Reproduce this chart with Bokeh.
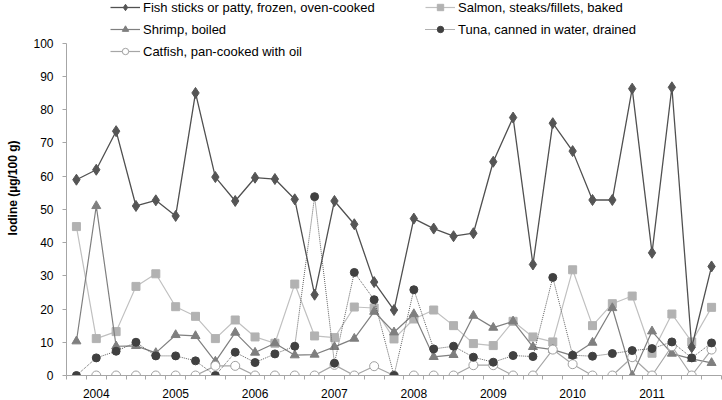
import numpy as np
from bokeh.plotting import figure
from bokeh.models import Range1d, FixedTicker, Legend, LegendItem
from bokeh.embed import file_html
from bokeh.resources import INLINE

# ---- data ----
fish_sticks = [58.9, 61.9, 73.5, 51.0, 52.7, 48.0, 85.0, 59.7, 52.5, 59.5, 59.1,
               53.0, 24.3, 52.5, 45.5, 28.1, 19.7, 47.2, 44.2, 41.9, 42.8, 64.3,
               77.6, 33.4, 75.9, 67.5, 52.8, 52.8, 86.3, 36.9, 86.7, 8.5, 32.8]
salmon = [44.8, 11.1, 13.2, 26.8, 30.6, 20.7, 17.8, 11.1, 16.7, 11.6, 9.7,
          27.5, 11.9, 11.4, 20.6, 20.3, 11.0, 17.0, 19.7, 15.0, 9.6, 9.0,
          16.3, 11.6, 10.1, 31.8, 15.0, 21.6, 23.9, 6.7, 18.5, 10.1, 20.5]
shrimp = [10.3, 51.0, 8.8, 8.9, 6.8, 12.2, 11.9, 4.2, 12.9, 6.9, 9.7,
          6.1, 6.3, 8.6, 11.1, 19.2, 13.0, 18.5, 5.6, 6.2, 18.0, 14.4,
          16.3, 8.6, 7.8, 6.0, 9.9, 20.3, 0.0, 13.3, 6.6, 5.0, 3.8]
tuna = [0.0, 5.3, 7.3, 10.0, 5.9, 5.9, 4.4, 0.0, 7.0, 3.9, 6.5,
        8.8, 53.8, 3.7, 31.0, 22.8, 0.0, 25.8, 8.0, 8.8, 5.5, 4.0,
        6.0, 5.7, 29.5, 6.1, 5.8, 6.6, 7.5, 8.1, 10.1, 5.3, 9.8]
catfish = [np.nan, 0.0, 0.0, 0.0, 0.0, 0.0, 0.0, 2.9, 2.9, 0.0, 0.0,
           0.0, 0.0, 3.2, 0.0, 2.8, 0.0, 0.0, 0.0, 0.0, 3.1, 3.1,
           0.0, 0.0, 7.8, 3.4, 0.0, 0.0, 5.5, 0.0, 8.8, 0.0, 7.8]
years = ["2004", "2005", "2006", "2007", "2008", "2009", "2010", "2011"]
year_first_index = 1   # first quarter of 2004 in the sampling sequence
per_year = 4           # samples per year
y_ticks = list(range(0, 101, 10))

x = np.arange(len(fish_sticks))

FONT = "Liberation Sans"

# frame: 0 at y=376px, 100 at y=42.7px -> extend range to the top of canvas
px_per_unit = (376 - 42.7) / 100.0
y_top = 376 / px_per_unit

p = figure(width=722, height=400, output_backend="svg", toolbar_location=None,
           x_range=Range1d(-0.5, len(x) - 0.5), y_range=Range1d(0, y_top))
p.min_border_left = 66
p.min_border_right = 1
p.min_border_top = 0
p.min_border_bottom = 24
p.outline_line_color = None
p.xgrid.visible = False
p.ygrid.visible = False
p.background_fill_color = "white"
p.border_fill_color = "white"

# axes
year_ticks = [year_first_index + per_year * i for i in range(len(years))]
p.xaxis.ticker = FixedTicker(ticks=year_ticks,
                             minor_ticks=[i - 0.5 for i in range(len(x) + 1)])
p.xaxis.major_label_overrides = {t: y for t, y in zip(year_ticks, years)}
p.xaxis.major_tick_out = 0
p.xaxis.major_tick_in = 0
p.xaxis.minor_tick_out = 4
p.xaxis.minor_tick_in = 0
p.xaxis.major_label_standoff = 9
p.xaxis.axis_line_color = "#A6A6A6"
p.xaxis.minor_tick_line_color = "#A6A6A6"

p.yaxis.ticker = FixedTicker(ticks=y_ticks)
p.yaxis.bounds = (y_ticks[0], y_ticks[-1])
p.yaxis.minor_tick_line_color = None
p.yaxis.major_tick_out = 4
p.yaxis.major_tick_in = 0
p.yaxis.major_label_standoff = 9
p.yaxis.axis_line_color = "#A6A6A6"
p.yaxis.major_tick_line_color = "#A6A6A6"
p.yaxis.axis_label = "Iodine (µg/100 g)"
p.yaxis.axis_label_text_font = FONT
p.yaxis.axis_label_text_font_style = "bold"
p.yaxis.axis_label_text_font_size = "12px"
p.yaxis.axis_label_text_color = "#000000"
p.yaxis.axis_label_standoff = 10

for ax in (p.xaxis, p.yaxis):
    ax.major_label_text_font = FONT
    ax.major_label_text_font_size = "12px"
    ax.major_label_text_color = "#000000"

SAL_L, SAL_M = "#C0C0C0", "#B2B2B2"
SHR = "#7F7F7F"
CAT_L, CAT_M = "#A6A6A6", "#A0A0A0"
FISH_L, FISH_M = "#505050", "#555555"
TUNA_L, TUNA_M = "#606060", "#404040"

# series
r_sal_l = p.line(x, salmon, line_color=SAL_L, line_width=1.2)
r_sal_m = p.scatter(x, salmon, marker="square", size=8, fill_color=SAL_M, line_color=SAL_M)
r_shr_l = p.line(x, shrimp, line_color=SHR, line_width=1.2)
r_shr_m = p.scatter(x, shrimp, marker="triangle", size=9, fill_color=SHR, line_color=SHR)
r_cat_l = p.line(x, catfish, line_color=CAT_L, line_width=1.2)
r_cat_m = p.scatter(x, catfish, marker="circle", size=9, fill_color="white",
                    line_color=CAT_M, line_width=1)
r_fish_l = p.line(x, fish_sticks, line_color=FISH_L, line_width=1.3)
r_fish_m = p.scatter(x, fish_sticks, marker="diamond", size=11, fill_color=FISH_M,
                     line_color=FISH_M)
r_tuna_l = p.line(x, tuna, line_color=TUNA_L, line_width=1, line_dash="1 1")
r_tuna_m = p.scatter(x, tuna, marker="circle", size=8, fill_color=TUNA_M, line_color=TUNA_M)

def make_legend(items, loc):
    lg = Legend(items=items, location=loc)
    lg.glyph_width = 30
    lg.glyph_height = 16
    lg.label_height = 16
    lg.spacing = 6
    lg.padding = 0
    lg.margin = 0
    lg.label_standoff = 3
    lg.label_text_font = FONT
    lg.label_text_font_size = "13px"
    lg.label_text_color = "#000000"
    lg.background_fill_alpha = 0
    lg.border_line_color = None
    return lg

leg1 = make_legend([
    LegendItem(label="Fish sticks or patty, frozen, oven-cooked", renderers=[r_fish_l, r_fish_m]),
    LegendItem(label="Shrimp, boiled", renderers=[r_shr_l, r_shr_m]),
    LegendItem(label="Catfish, pan-cooked with oil", renderers=[r_cat_l, r_cat_m]),
], (44, 316))
leg2 = make_legend([
    LegendItem(label="Salmon, steaks/fillets, baked", renderers=[r_sal_l, r_sal_m]),
    LegendItem(label="Tuna, canned in water, drained", renderers=[r_tuna_l, r_tuna_m]),
], (359, 338))
p.add_layout(leg1, "center")
p.add_layout(leg2, "center")

open("out.html", "w").write(file_html(p, INLINE))
